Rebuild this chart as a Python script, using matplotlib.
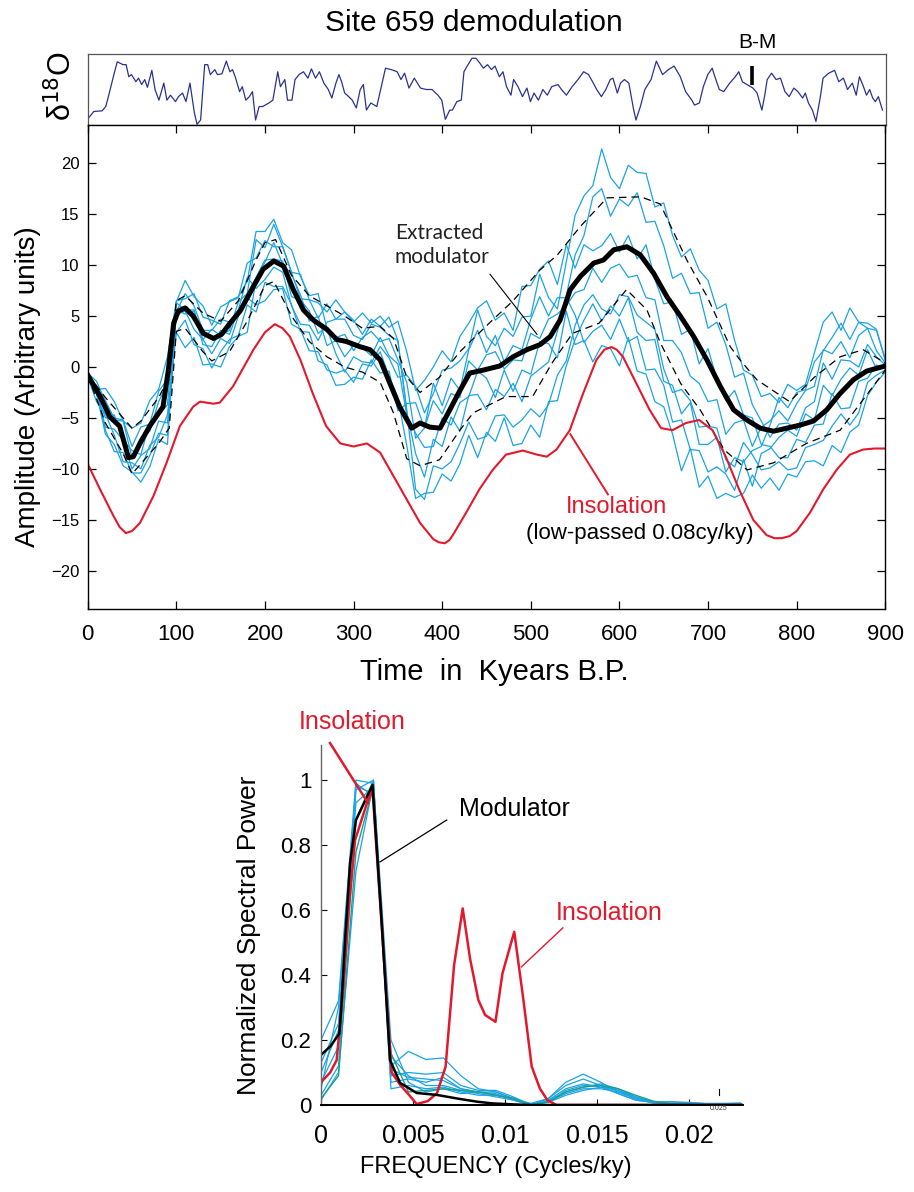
import matplotlib
matplotlib.use('Agg')
import matplotlib.pyplot as plt
from matplotlib import font_manager

plt.rcParams['font.family'] = ['Liberation Sans', 'DejaVu Sans']
names = {f.name for f in font_manager.fontManager.ttflist}
NARROW = 'Liberation Sans Narrow' if 'Liberation Sans Narrow' in names else 'Liberation Sans'
HUMAN = 'Lato' if 'Lato' in names else 'DejaVu Sans'

BLUE = '#1ba3e3'
RED = '#e2192c'
NAVY = '#2a3290'
TEAL = '#1e9e8e'

# ---------------- data ----------------
# delta18O record (relative units, 0-100)
d18o_age = [0, 6.6, 16, 20, 23, 30, 33, 39.5, 43, 46,
            49, 54, 57, 60.5, 64, 67, 72, 75.6, 80, 85.5,
            89, 93, 98.7, 102, 106.6, 110.5, 115, 120, 123, 127,
            131.6, 135, 138, 143, 146, 151, 156, 160, 163, 166,
            171, 174, 178, 182, 185.5, 189, 193, 197, 204, 208.5,
            214, 217, 222, 225, 230, 233.5, 238, 243, 248, 252,
            256.6, 261, 266, 271, 275, 279.6, 283, 286, 289.5, 294,
            298, 302.6, 307, 310.5, 314, 319, 325.7, 330, 335.5, 342,
            348.7, 353, 357, 362, 368, 375, 381.6, 388, 394.7, 399,
            403, 408, 411, 416, 421, 424, 427.6, 433, 437.5, 442,
            446, 450.6, 455, 459, 464, 468, 472, 477, 480, 485,
            490, 495, 499, 503, 508, 513, 518, 523, 530, 534,
            539.5, 546, 552.6, 559, 564.5, 569, 573.7, 579, 584, 589,
            592, 597, 600.6, 605, 610, 615, 618, 623, 628, 635,
            641, 648, 654.6, 661, 668, 674, 681, 684, 689.5, 694,
            699, 704, 707, 712, 717, 723.7, 730, 734, 738, 743,
            750, 754.6, 760, 763, 766, 771, 776, 781, 786, 790.8,
            796, 800.6, 806, 809, 812.5, 817, 821, 826, 829, 835.5,
            842, 846.7, 852, 856.6, 862, 866.4, 870, 873.7, 878, 881.6,
            885, 888, 891.4, 896]
d18o_val = [9, 19, 20, 26, 40, 75, 89, 85, 85, 68,
            71, 61, 66, 57, 64, 53, 77, 50, 35, 59,
            35, 42, 33, 40, 45, 33, 59, 17, 1, 7,
            85, 85, 71, 78, 71, 72, 90, 75, 78, 68,
            47, 54, 35, 40, 47, 7, 26, 26, 31, 35,
            75, 54, 64, 35, 35, 64, 71, 75, 66, 79,
            66, 75, 59, 50, 38, 59, 71, 61, 45, 40,
            35, 24, 50, 57, 21, 31, 26, 50, 80, 78,
            75, 64, 73, 52, 66, 52, 50, 50, 42, 35,
            8, 21, 21, 33, 35, 75, 83, 94, 94, 87,
            80, 85, 78, 83, 68, 75, 54, 42, 64, 54,
            40, 52, 33, 45, 35, 50, 42, 54, 57, 50,
            42, 54, 64, 75, 71, 61, 50, 40, 50, 64,
            66, 45, 59, 64, 59, 24, 7, 26, 50, 64,
            90, 71, 78, 83, 68, 47, 35, 28, 31, 54,
            71, 80, 68, 50, 47, 59, 68, 75, 61, 57,
            52, 45, 21, 40, 64, 73, 64, 66, 47, 40,
            52, 47, 38, 45, 31, 21, 5, 40, 66, 73,
            77, 61, 66, 50, 59, 42, 68, 57, 42, 50,
            38, 33, 40, 21]
bm_age = 749
bm_range = [57, 83]

# extracted modulator
mod_t = [0, 14, 25, 36, 46, 51.5, 59, 70, 85, 91, 97, 102.3, 110, 119, 130.5,
         142, 151, 160.6, 172, 187, 198, 210, 221, 232, 243.4, 254.7, 269.8,
         281, 292, 307, 318.6, 330, 341, 352, 365.6, 375, 386, 397.6, 408.6,
         420, 431, 446.5, 465, 480, 495.6, 510.6, 522, 533, 544.5, 556, 571,
         582, 593.5, 608.5, 623.6, 638.6, 653.6, 668.7, 683.7, 698.7, 713.8,
         728.8, 743.8, 758.8, 773.9, 789, 804, 819, 834, 849, 864, 879, 900]
mod_v = [-0.8, -2.9, -4.9, -5.8, -8.9, -8.8, -7.5, -5.8, -3.9, -0.3, 4.3, 5.5,
         5.8, 5.0, 3.3, 2.8, 3.2, 4.3, 5.5, 7.9, 9.6, 10.4, 9.9, 7.6, 5.6, 4.6,
         3.7, 2.7, 2.5, 2.0, 1.7, 0.7, -1.6, -3.9, -6.0, -5.5, -5.9, -6.0, -4.2,
         -2.3, -0.6, -0.3, 0.1, 1.0, 1.7, 2.2, 3.0, 4.6, 7.6, 8.9, 10.2, 10.5,
         11.5, 11.8, 11.0, 9.2, 6.9, 5.0, 3.0, 0.7, -1.9, -4.2, -5.2, -6.0, -6.3,
         -6.0, -5.7, -5.3, -4.2, -2.6, -1.25, -0.4, 0.1]

# low-passed insolation
ins_t = [0, 13.9, 29, 36, 43, 50, 59, 74, 89, 104, 119, 126.7, 141.7, 149, 164,
         187, 200, 211, 220, 228, 240, 254, 269, 285, 300, 315, 330, 345, 360, 375,
         390, 396, 403, 408, 412, 427, 442, 457, 472, 491, 507, 518, 529, 544, 559,
         574, 583, 591, 597, 604, 619, 634, 647, 660, 675, 690, 705, 720, 735, 751,
         766, 775, 783, 792, 800, 815, 830, 845, 860, 875, 888, 900]
ins_v = [-9.5, -12.0, -14.6, -15.7, -16.3, -16.1, -15.3, -12.7, -9.4, -5.8, -3.9,
         -3.4, -3.6, -3.5, -1.9, 1.7, 3.4, 4.2, 3.8, 3.0, 0.7, -2.6, -5.8, -7.5,
         -7.8, -7.5, -8.4, -10.7, -13.0, -15.3, -16.9, -17.2, -17.3, -17.0, -16.5,
         -14.3, -12.0, -10.1, -8.6, -8.2, -8.6, -8.8, -8.1, -6.2, -2.6, 0.7, 1.7,
         1.96, 1.7, 1.0, -1.6, -4.2, -6.0, -6.2, -5.5, -5.2, -6.2, -8.8, -12.0,
         -15.0, -16.5, -16.8, -16.8, -16.6, -16.1, -14.3, -12.0, -10.1, -8.6, -8.1,
         -8.0, -8.0]

# envelope bounds (dashed)
dup_t = [0, 20, 40, 50, 60, 80, 92, 100, 110, 130, 150, 170, 190, 200, 212, 230,
         250, 270, 290, 310, 330, 345, 360, 375, 397, 420, 453, 480, 510, 530, 556,
         586, 624, 646, 676, 699, 725, 736, 755, 792, 820, 849, 875, 900]
dup_v = [-0.7, -3.0, -5.0, -6.0, -5.3, -3.0, -1.0, 6.5, 7.0, 5.3, 4.5, 6.5, 10.5,
         12.2, 12.5, 9.0, 7.0, 6.0, 5.0, 3.8, 4.0, 2.8, -1.0, -2.5, -1.0, 1.5, 4.3,
         6.5, 9.5, 11.0, 13.8, 16.6, 16.7, 16.0, 10.5, 6.9, 2.0, 0.7, -1.25, -3.4,
         -1.0, 1.0, 1.7, 0.4]
dlo_t = [0, 20, 40, 50, 60, 80, 92, 100, 110, 130, 140, 160, 180, 200, 210, 230,
         250, 270, 290, 310, 330, 345, 360, 375, 397, 420, 435, 472, 502, 524, 547,
         577, 608, 631, 646, 669, 691, 718, 744, 774, 811, 849, 875, 900]
dlo_v = [-0.8, -5.5, -8.5, -10.5, -9.5, -7.5, -6.0, 3.5, 3.8, 1.5, 0.6, 1.5, 4.5,
         8.0, 8.4, 5.0, 2.5, 1.0, 0.0, -0.5, -1.5, -4.5, -9.0, -9.7, -9.1, -6.2,
         -4.5, -2.9, -2.9, 0.4, 3.3, 4.3, 7.6, 5.6, 2.4, -1.6, -4.2, -8.1, -10.1,
         -9.4, -7.5, -6.2, -3.2, -0.3]

# individual demodulated records, sampled every 10 kyr
rec_t = list(range(0, 901, 10))
rec_1 = [-0.4, -2.2, -2.1, -3.4, -5.3, -6.0, -5.5, -3.3, -2.2, 1.0,
         6.5, 6.7, 7.2, 4.9, 4.6, 4.2, 6.5, 6.9, 8.4,
         13.3, 13.3, 14.5, 12.2, 11.5, 8.9, 7.0, 7.2,
         3.8, 1.3, -0.5, 1.0, 0.5, 0.4, 2.0, 0.9, -1.0,
         -0.8, -1.9, -4.5, -2.6, -0.3, -0.1, 0.6, 1.8, 5.6, 3.0, 2.1, 3.8, 3.0, 4.9, 5.0, 9.1, 6.8, 5.7, 10.3,
         14.9, 16.8, 17.8, 21.4, 18.6, 17.5, 19.8, 19.1, 19.0, 15.7, 16.1, 12.9, 10.8, 11.6, 9.5, 8.5, 5.7, 6.2, 2.6, -0.3, -0.8,
         -2.9, -2.6, -3.5, -1.7, -2.3, -1.7, 1.4, 4.4, 5.4, 3.6, 5.8, 4.4, 4.3, 3.7, 0.6]
rec_2 = [-0.6, -1.4, -3.4, -5.0, -5.2, -7.8, -5.9, -5.6, -2.4, -1.2,
         6.4, 8.5, 6.9, 6.0, 4.1, 5.9, 6.4, 6.8, 10.2,
         10.7, 12.4, 11.8, 11.8, 9.3, 6.7, 6.6, 4.8,
         6.2, 4.7, 5.4, 4.6, 3.2, 4.7, 4.0, 4.9, 2.6,
         -4.4, -8.5, -10.8, -7.1, -7.8, -4.9, -6.3, -2.8, -2.7, -4.2, -2.2, -2.9, -1.6, -3.4, -0.9, -0.2, 0.5, 3.5, 7.0,
         11.0, 12.9, 16.7, 17.5, 14.8, 16.5, 15.8, 17.1, 14.2, 14.3, 11.9, 8.7, 9.2, 7.2, 7.3, 3.8, 4.4, 2.2, -1.0, -0.6, -3.7,
         -5.3, -6.9, -5.6, -5.5, -6.2, -4.0, -3.4, 0.4, -1.2, 0.7, 0.6, 0.0, 2.2, 1.0, 0.2]
rec_3 = [-0.7, -2.7, -5.0, -4.7, -7.2, -8.2, -8.6, -5.4, -4.7, -3.7,
         6.3, 5.6, 5.6, 2.7, 3.7, 3.1, 3.6, 6.4, 7.2,
         12.5, 11.7, 14.0, 11.8, 9.3, 9.1, 6.6, 6.3,
         5.4, 6.6, 5.4, 4.4, 5.3, 4.3, 5.0, 3.9, 4.5,
         1.5, -2.3, -1.3, 0.0, 1.6, 0.5, 3.0, 4.3, 5.8, 6.5, 4.6, 5.3, 3.6, 7.9, 8.0, 9.6, 10.4, 8.1, 12.0,
         9.7, 12.0, 11.4, 11.9, 13.1, 11.3, 12.9, 10.6, 12.0, 8.6, 6.2, 6.4, 3.2, 3.7, 0.3, 1.8, -1.2, -3.3, -2.3, -4.7, -5.0,
         -7.6, -7.8, -8.9, -8.9, -7.1, -7.4, -5.7, -5.6, -2.6, -4.1, -4.0, -1.4, -1.1, 0.2, -0.2]
rec_4 = [-0.8, -2.3, -5.9, -6.1, -7.2, -10.0, -8.7, -8.0, -5.3, -5.5,
         5.1, 5.5, 3.7, 2.7, 1.3, 2.8, 2.3, 5.0, 7.1,
         8.8, 10.5, 10.6, 10.4, 6.9, 6.6, 5.5, 3.3,
         3.9, 2.9, 3.2, 1.6, 2.9, 3.5, 2.5, 2.8, 0.7,
         -1.5, -7.0, -6.0, -3.3, -4.6, -2.6, -3.0, 0.6, -0.3, 1.2, 1.5, -0.2, 0.7, 0.6, 3.3, 2.8, 4.7, 5.2, 6.0,
         7.3, 7.6, 9.7, 8.3, 9.7, 10.1, 8.8, 9.0, 6.8, 6.6, 2.6, 2.6, 1.4, -0.9, -1.6, -3.4, -3.2, -6.6, -5.5, -5.2, -7.8,
         -5.9, -5.3, -4.3, -5.3, -3.6, -2.3, -1.9, 1.7, 1.3, 2.5, 0.9, 3.1, 3.8, 1.6, 0.4]
rec_5 = [-0.9, -2.5, -6.2, -8.3, -8.4, -10.4, -10.4, -8.7, -6.5, -6.7,
         5.4, 7.2, 6.0, 3.6, 3.6, 4.7, 4.4, 5.6, 8.8,
         7.7, 8.6, 9.8, 9.3, 6.0, 4.2, 4.1, 2.6,
         4.4, 4.7, 4.7, 3.1, 2.7, 4.2, 3.9, 3.1, 2.6,
         -4.2, -12.0, -13.0, -9.7, -10.0, -9.3, -7.5, -5.4, -7.1, -6.8, -4.8, -4.7, -5.9, -5.2, -4.1, -4.9, -3.7, -0.8, 0.6,
         4.1, 6.1, 7.1, 5.7, 5.2, 7.1, 6.9, 5.1, 4.4, 3.7, -0.2, -2.5, -2.2, -3.3, -5.9, -5.8, -6.0, -9.1, -9.8, -7.4, -8.6,
         -10.1, -9.9, -9.3, -10.1, -9.9, -7.9, -7.6, -7.2, -5.8, -4.6, -5.7, -4.5, -1.5, -0.8, -0.3]
rec_6 = [-0.5, -1.9, -3.3, -5.2, -5.3, -8.9, -6.9, -6.3, -3.4, -1.6,
         3.4, 4.6, 2.2, 1.8, -0.1, 1.5, 2.7, 3.1, 6.1,
         5.4, 8.3, 7.9, 7.9, 6.1, 3.5, 3.4, 0.6,
         0.2, -1.8, -1.7, -1.0, -1.2, 0.7, -0.6, -0.4, -4.3,
         -3.6, -3.5, -6.0, -1.6, -3.8, -1.1, -2.3, 1.7, 3.6, 1.4, 3.1, 0.5, 2.1, 1.7, 4.7, 6.9, 5.0, 6.8, 6.8,
         5.1, 2.4, 3.5, 4.1, 2.7, 4.7, 2.5, 3.0, -0.3, -0.2, -1.8, -5.4, -5.2, -8.1, -8.2, -10.3, -9.8, -10.5, -12.1, -9.1, -11.7,
         -8.5, -8.0, -6.9, -6.2, -6.8, -4.6, -5.2, -1.8, -2.8, -1.2, -0.1, -0.8, 1.7, -0.2, 0.0]
rec_7 = [-1.0, -3.4, -4.6, -6.7, -9.3, -9.4, -10.0, -7.7, -6.9, -4.7,
         3.4, 1.9, 2.9, 0.2, 0.3, 0.0, 2.0, 3.0, 3.4,
         8.6, 10.3, 12.2, 10.1, 9.1, 7.1, 4.5, 5.0,
         2.1, 2.6, 1.0, 2.1, 1.9, 1.1, 2.9, 1.1, 0.3,
         -4.7, -6.5, -7.9, -7.8, -5.0, -5.7, -3.5, -2.9, -0.4, -1.1, -3.0, -0.3, -2.4, -0.3, -0.7, 2.5, 2.3, 0.9, 5.5,
         2.2, 2.6, 0.5, 2.1, 1.8, 0.1, 2.9, -0.4, -0.7, -3.4, -3.9, -6.6, -10.2, -8.0, -11.8, -10.7, -12.9, -12.4, -12.8, -12.4, -10.6,
         -11.9, -10.9, -12.1, -10.5, -10.8, -9.3, -9.2, -9.7, -7.7, -8.4, -6.4, -5.7, -2.8, -1.5, -0.5]
rec_8 = [-0.9, -2.6, -6.6, -7.6, -9.7, -10.3, -11.3, -9.8, -7.1, -7.6,
         5.6, 5.2, 5.5, 2.2, 2.0, 3.6, 3.2, 5.6, 6.8,
         6.1, 6.5, 7.6, 7.7, 4.2, 3.7, 1.6, 1.5,
         -0.3, -0.6, -0.3, -1.5, 0.3, 0.1, 1.5, -0.9, -3.0,
         -7.7, -12.9, -12.4, -12.3, -10.5, -11.2, -9.5, -6.7, -8.9, -6.4, -7.3, -5.0, -7.7, -7.5, -5.7, -6.9, -3.4, -3.3, 0.1,
         2.7, 4.6, 6.2, 4.5, 6.0, 5.0, 6.8, 3.4, 2.6, 2.7, -1.4, -1.8, -4.6, -3.5, -7.6, -7.6, -6.9, -10.3, -8.9, -9.3, -8.2,
         -7.8, -5.7, -3.0, -4.0, -2.5, -2.2, 0.5, 1.6, 2.9, 4.3, 2.7, 4.4, 3.8, 3.6, 0.8]
records = [rec_1, rec_2, rec_3, rec_4, rec_5, rec_6, rec_7, rec_8]

# spectra
spec_f = [0, 0.00095, 0.0019, 0.00285, 0.0038, 0.00475, 0.0057, 0.00665, 0.0076,
          0.00855, 0.0095, 0.01045, 0.0114, 0.01235, 0.0133, 0.01425, 0.0152,
          0.01615, 0.0171, 0.01805, 0.019, 0.01995, 0.0209, 0.02185, 0.0228]
spec_1 = [0.20, 0.32, 1.00, 0.99, 0.12, 0.165, 0.14, 0.145, 0.09, 0.05, 0.04, 0.02, 0.005,
          0.02, 0.07, 0.095, 0.07, 0.04, 0.02, 0.01, 0.01, 0.008, 0.005, 0.005, 0.006]
spec_2 = [0.13, 0.25, 0.97, 1.00, 0.09, 0.10, 0.095, 0.10, 0.06, 0.045, 0.045, 0.025, 0.0,
          0.015, 0.05, 0.065, 0.055, 0.035, 0.015, 0.008, 0.006, 0.004, 0.003, 0.003, 0.004]
spec_3 = [0.10, 0.23, 0.93, 0.98, 0.07, 0.08, 0.07, 0.085, 0.05, 0.04, 0.03, 0.02, 0.0,
          0.01, 0.045, 0.06, 0.06, 0.045, 0.02, 0.006, 0.004, 0.003, 0.002, 0.002, 0.003]
spec_4 = [0.07, 0.18, 0.99, 0.95, 0.15, 0.09, 0.06, 0.06, 0.045, 0.035, 0.025, 0.015, 0.0,
          0.012, 0.04, 0.055, 0.065, 0.05, 0.025, 0.01, 0.003, 0.002, 0.002, 0.002, 0.002]
spec_5 = [0.03, 0.12, 0.88, 1.00, 0.05, 0.06, 0.05, 0.055, 0.04, 0.03, 0.03, 0.02, 0.002,
          0.01, 0.035, 0.05, 0.05, 0.04, 0.02, 0.008, 0.003, 0.002, 0.001, 0.001, 0.002]
spec_6 = [0.015, 0.10, 0.72, 0.99, 0.20, 0.07, 0.04, 0.05, 0.035, 0.04, 0.035, 0.015, 0.0,
          0.008, 0.03, 0.045, 0.055, 0.045, 0.025, 0.01, 0.004, 0.002, 0.001, 0.001, 0.001]
spec_7 = [0.05, 0.30, 0.98, 0.96, 0.11, 0.085, 0.08, 0.075, 0.05, 0.04, 0.04, 0.02, 0.0,
          0.02, 0.06, 0.08, 0.06, 0.035, 0.015, 0.008, 0.01, 0.006, 0.004, 0.004, 0.005]
spec_8 = [0.02, 0.09, 0.78, 0.98, 0.16, 0.04, 0.045, 0.05, 0.045, 0.04, 0.03, 0.02, 0.0,
          0.01, 0.04, 0.055, 0.06, 0.05, 0.03, 0.012, 0.003, 0.002, 0.001, 0.001, 0.001]
spectra = [spec_1, spec_2, spec_3, spec_4, spec_5, spec_6, spec_7]

mod_f = [0, 0.0005, 0.001, 0.0011, 0.0013, 0.00158, 0.0019, 0.0025, 0.0028, 0.0033,
         0.00375, 0.0043, 0.0052, 0.0063, 0.0074, 0.0085, 0.0093, 0.0104, 0.0114, 0.015, 0.0229]
mod_p = [0.154, 0.18, 0.22, 0.30, 0.50, 0.745, 0.877, 0.949, 0.985, 0.56, 0.138, 0.068,
         0.037, 0.031, 0.02, 0.01, 0.005, 0.002, 0.0, 0.0, 0.0]
ins_f = [0, 0.0005, 0.00085, 0.0012, 0.0015, 0.00185, 0.0025, 0.0028, 0.0033, 0.00384,
         0.0043, 0.0048, 0.0052, 0.0058, 0.0063, 0.00677, 0.00723, 0.0077, 0.0081, 0.00855,
         0.00892, 0.00948, 0.00986, 0.0105, 0.011, 0.01145, 0.0119, 0.0123, 0.0128, 0.015, 0.0229]
ins_p = [0.07, 0.1, 0.138, 0.35, 0.6, 0.815, 0.93, 0.97, 0.55, 0.1, 0.062, 0.03, 0.003,
         0.012, 0.036, 0.118, 0.43, 0.605, 0.45, 0.323, 0.277, 0.256, 0.405, 0.533, 0.323,
         0.118, 0.05, 0.015, 0.0, 0.0, 0.0]

time_ticks = [0, 100, 200, 300, 400, 500, 600, 700, 800, 900]
amp_ticks = [-20, -15, -10, -5, 0, 5, 10, 15, 20]
freq_ticks = [0, 0.005, 0.01, 0.015, 0.02]
freq_labels = ['0', '0.005', '0.01', '0.015', '0.02']
pow_ticks = [0, 0.2, 0.4, 0.6, 0.8, 1.0]
pow_labels = ['0', '0.2', '0.4', '0.6', '0.8', '1']

# ---------------- layout ----------------
W, H = 914, 1192
fig = plt.figure(figsize=(W / 100, H / 100), dpi=100)
fig.patch.set_facecolor('white')


def rect(x0, y0, x1, y1):
    return [x0 / W, 1 - y1 / H, (x1 - x0) / W, (y1 - y0) / H]


def ftext(x, y, s, **kw):
    return fig.text(x / W, 1 - y / H, s, **kw)


# top: d18O
ax_top = fig.add_axes(rect(88, 54, 886, 125))
ax_top.plot(d18o_age, d18o_val, color=NAVY, lw=0.9)
ax_top.plot([bm_age, bm_age], bm_range, color='black', lw=2.6, solid_capstyle='butt')
ax_top.text(755, 116, 'B-M', ha='center', va='center', fontsize=15, clip_on=False)
ax_top.set_xlim(0, 900)
ax_top.set_ylim(0, 100)
ax_top.set_xticks([])
ax_top.set_yticks([])
for s in ax_top.spines.values():
    s.set_color('#555555')
    s.set_linewidth(0.9)

# main amplitude panel
ax = fig.add_axes(rect(87.7, 125, 885.3, 609))
for r in records:
    ax.plot(rec_t, r, color=BLUE, lw=0.9)
ax.plot(dup_t, dup_v, color='black', lw=0.9, dashes=(6, 4))
ax.plot(dlo_t, dlo_v, color='black', lw=0.9, dashes=(6, 4))
ax.plot(ins_t, ins_v, color=RED, lw=1.5)
ax.plot(mod_t, mod_v, color='black', lw=3.6, solid_joinstyle='round')
ax.plot([454, 507], [9.1, 3.2], color='black', lw=0.8)
ax.plot([587, 544.6], [-12.5, -6.6], color=RED, lw=1.4)
ax.set_xlim(0, 900)
ax.set_ylim(-23.75, 23.75)
ax.set_xticks(time_ticks)
ax.set_yticks(amp_ticks)
ax.tick_params(direction='in', length=6, width=0.9, top=True, right=True)
ax.tick_params(axis='x', labelsize=16, pad=11)
ax.tick_params(axis='y', labelsize=12, pad=6)
for s in ax.spines.values():
    s.set_linewidth(1.0)

ftext(395, 245, 'Extracted\nmodulator', ha='left', va='center', fontsize=15,
      family=HUMAN, color='#222222', linespacing=1.25)
ftext(617, 507, 'Insolation', ha='center', va='center', fontsize=17, color=RED)
ftext(640, 533, '(low-passed 0.08cy/ky)', ha='center', va='center', fontsize=16)
ftext(28, 387, 'Amplitude (Arbitrary units)', rotation=90, ha='center', va='center',
      fontsize=20, family=NARROW)
ftext(62, 86, 'δ$^{18}$O', rotation=90, ha='center', va='center', fontsize=22)
ftext(474, 23, 'Site 659 demodulation', ha='center', va='center', fontsize=21.5)
ftext(494, 672, 'Time  in  Kyears B.P.', ha='center', va='center', fontsize=21)

# spectrum panel
ax_s = fig.add_axes(rect(321, 745, 743, 1105))
for sp in spectra:
    ax_s.plot(spec_f, sp, color=BLUE, lw=0.9)
ax_s.plot(spec_f, spec_8, color=TEAL, lw=1.0)
ax_s.plot(ins_f, ins_p, color=RED, lw=1.8)
ax_s.plot(mod_f, mod_p, color='black', lw=1.8)
ax_s.plot([0.00049, 0.00255], [1.114, 0.93], color=RED, lw=1.8, clip_on=False)
ax_s.plot([0.00683, 0.0032], [0.877, 0.748], color='black', lw=0.9)
ax_s.plot([0.01314, 0.01089], [0.545, 0.425], color=RED, lw=1.0)
ax_s.plot([0.0216, 0.0216], [0.03, 0.05], color='black', lw=0.8)
ax_s.text(0.0216, 0.0, '0.025', fontsize=5, ha='center', va='top', color='#333333')
ax_s.set_xlim(0, 0.02293)
ax_s.set_ylim(0, 1.108)
ax_s.set_xticks(freq_ticks)
ax_s.set_xticklabels(freq_labels)
ax_s.set_yticks(pow_ticks)
ax_s.set_yticklabels(pow_labels)
ax_s.spines['top'].set_visible(False)
ax_s.spines['right'].set_visible(False)
ax_s.spines['left'].set_color('#666666')
ax_s.spines['left'].set_linewidth(1.0)
ax_s.spines['bottom'].set_linewidth(1.4)
ax_s.tick_params(direction='in', length=4, width=0.8)
ax_s.tick_params(axis='x', labelsize=18, pad=14)
ax_s.tick_params(axis='y', labelsize=16, pad=7)

ftext(352, 722, 'Insolation', ha='center', va='center', fontsize=18, color=RED)
ftext(459, 809, 'Modulator', ha='left', va='center', fontsize=18)
ftext(609, 913, 'Insolation', ha='center', va='center', fontsize=18, color=RED)
ftext(249, 935, 'Normalized Spectral Power', rotation=90, ha='center', va='center',
      fontsize=19)
ftext(496, 1167, 'FREQUENCY (Cycles/ky)', ha='center', va='center', fontsize=17)

fig.savefig('out.png', dpi=100, facecolor='white')
